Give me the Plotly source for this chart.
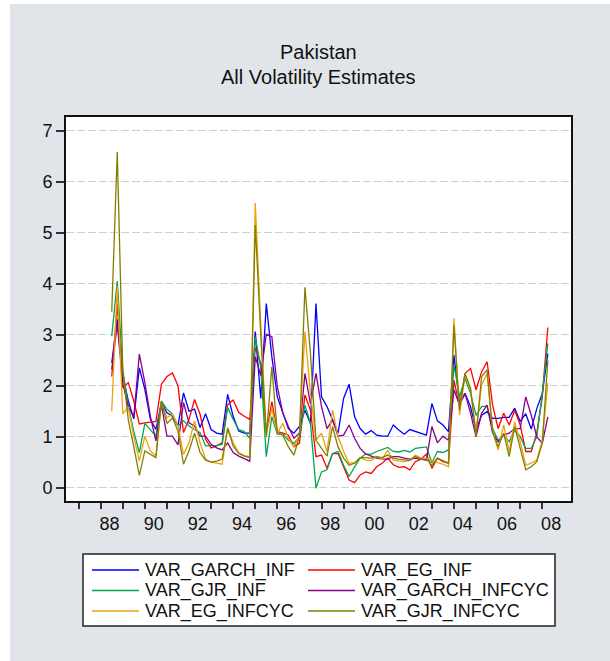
import pandas as pd
import plotly.graph_objects as go

# ---------------- data (quarterly, 1988Q3 .. 2008Q2) ----------------
start_quarter = "1988Q3"
end_quarter = "2008Q2"

series_names = ["VAR_GARCH_INF", "VAR_EG_INF", "VAR_GJR_INF",
                "VAR_GARCH_INFCYC", "VAR_EG_INFCYC", "VAR_GJR_INFCYC"]

var_garch_inf = [2.45, 3.30, 2.20, 1.70, 1.35, 2.35, 1.93, 1.34, 1.14, 1.67,
                 1.47, 1.40, 1.21, 1.86, 1.50, 1.54, 1.18, 1.45, 1.14, 1.07,
                 1.05, 1.83, 1.40, 1.11, 1.07, 1.07, 3.06, 1.75, 3.61, 2.57,
                 1.78, 1.46, 1.16, 1.07, 1.20, 1.52, 1.26, 3.61, 1.78, 1.59,
                 1.33, 1.07, 1.75, 2.03, 1.39, 1.16, 1.05, 1.12, 1.03, 1.01,
                 1.01, 1.23, 1.13, 1.05, 1.14, 1.10, 1.07, 1.03, 1.65, 1.31,
                 1.23, 1.10, 2.60, 1.65, 1.85, 1.59, 1.13, 1.42, 1.49, 1.36,
                 1.36, 1.38, 1.38, 1.56, 1.30, 1.45, 1.15, 1.55, 1.85, 2.63]

var_eg_inf = [2.18, 3.60, 1.96, 2.06, 1.70, 1.25, 1.27, 1.28, 1.30, 2.03,
              2.18, 2.25, 2.00, 1.08, 1.34, 1.73, 1.44, 0.95, 0.78, 0.82,
              0.88, 1.63, 1.72, 1.48, 1.40, 1.34, 2.75, 2.44, 1.07, 1.69,
              1.10, 1.07, 1.03, 0.80, 0.87, 1.82, 1.52, 0.61, 0.64, 0.38,
              0.67, 0.67, 0.41, 0.15, 0.10, 0.25, 0.31, 0.28, 0.41, 0.48,
              0.58, 0.45, 0.40, 0.41, 0.35, 0.51, 0.56, 0.66, 0.38, 0.58,
              0.51, 0.48, 2.11, 1.59, 2.24, 2.34, 1.92, 2.27, 2.47, 1.62,
              1.16, 1.46, 1.23, 1.52, 1.23, 0.71, 0.71, 1.07, 1.78, 3.14]

var_gjr_inf = [2.97, 4.05, 2.30, 1.60, 1.10, 0.69, 1.26, 1.14, 1.01, 1.70,
               1.54, 1.44, 1.21, 1.31, 1.21, 1.14, 1.08, 0.82, 0.82, 0.83,
               0.85, 1.57, 1.34, 1.14, 1.10, 0.97, 2.96, 2.35, 0.61, 1.39,
               1.05, 1.05, 0.93, 0.87, 1.00, 1.62, 1.26, -0.01, 0.31, 0.35,
               0.67, 0.71, 0.44, 0.22, 0.41, 0.58, 0.66, 0.66, 0.71, 0.75,
               0.79, 0.71, 0.70, 0.73, 0.70, 0.77, 0.79, 0.80, 0.49, 0.71,
               0.69, 0.74, 2.41, 1.78, 2.14, 1.85, 1.42, 1.59, 1.60, 1.16,
               0.93, 1.03, 0.90, 1.13, 1.00, 0.77, 0.77, 1.00, 1.85, 2.83]

var_garch_infcyc = [2.32, 3.20, 2.05, 1.58, 1.39, 2.62, 2.06, 1.40, 0.92, 1.63,
                    1.01, 1.01, 0.84, 1.67, 1.27, 1.21, 1.01, 1.01, 0.85, 0.78,
                    0.74, 0.88, 0.69, 0.62, 0.57, 0.52, 2.57, 2.20, 3.01, 2.96,
                    1.98, 1.46, 1.20, 0.97, 1.07, 2.24, 1.65, 2.24, 1.59, 1.16,
                    1.33, 1.01, 1.03, 1.23, 0.97, 0.77, 0.66, 0.62, 0.58, 0.56,
                    0.56, 0.61, 0.61, 0.58, 0.56, 0.58, 0.56, 0.54, 1.20, 0.88,
                    1.01, 0.93, 1.92, 1.62, 1.85, 1.46, 1.00, 1.46, 1.62, 1.07,
                    0.90, 1.03, 1.07, 1.16, 1.16, 1.78, 1.42, 1.00, 0.87, 1.39]

var_eg_infcyc = [1.50, 3.95, 1.45, 1.58, 1.00, 0.52, 1.01, 0.72, 0.62, 1.67,
                 1.37, 1.44, 1.21, 0.65, 0.88, 1.31, 0.88, 0.56, 0.50, 0.48,
                 0.46, 1.18, 0.88, 0.69, 0.63, 0.61, 5.58, 3.20, 1.03, 1.55,
                 1.07, 1.26, 0.97, 0.80, 1.03, 3.06, 1.85, 0.93, 1.07, 0.71,
                 1.52, 1.00, 0.71, 0.48, 0.49, 0.59, 0.54, 0.53, 0.61, 0.56,
                 0.74, 0.54, 0.53, 0.51, 0.54, 0.64, 0.58, 0.58, 0.54, 0.49,
                 0.46, 0.41, 3.32, 1.42, 2.21, 1.92, 1.10, 2.01, 2.24, 1.10,
                 0.74, 1.23, 0.71, 1.29, 0.90, 0.44, 0.48, 0.54, 0.93, 2.05]

var_gjr_infcyc = [3.45, 6.58, 2.30, 1.33, 0.80, 0.24, 0.72, 0.65, 0.59, 1.70,
                  1.26, 1.37, 1.11, 0.46, 0.72, 1.07, 0.69, 0.54, 0.50, 0.52,
                  0.56, 1.16, 0.82, 0.67, 0.62, 0.59, 5.15, 3.00, 1.00, 2.37,
                  1.07, 1.03, 0.80, 0.64, 1.00, 3.93, 2.63, 0.93, 0.77, 0.62,
                  1.20, 0.80, 0.58, 0.44, 0.48, 0.59, 0.59, 0.58, 0.61, 0.59,
                  0.64, 0.58, 0.56, 0.54, 0.53, 0.61, 0.56, 0.56, 0.44, 0.58,
                  0.53, 0.48, 3.19, 1.52, 2.24, 1.95, 1.00, 2.18, 2.31, 1.10,
                  0.80, 1.07, 0.61, 1.20, 0.77, 0.35, 0.41, 0.51, 0.87, 2.50]

series_values = [var_garch_inf, var_eg_inf, var_gjr_inf,
                 var_garch_infcyc, var_eg_infcyc, var_gjr_infcyc]

y_tick_values = [0, 1, 2, 3, 4, 5, 6, 7]
label_years = list(range(1988, 2009, 2))
tick_years = list(range(1987, 2009))

# ---------------- styles ----------------
colors = ["#0000FF", "#FF0000", "#00A651", "#8B008B", "#F0A010", "#808000"]
FONT = "Liberation Sans, Arial, sans-serif"
BG = "#E1E5EA"

W, H = 610, 661
L, R, T, B = 66, 39, 117, 160
PW, PH = W - L - R, H - T - B


def px_x(p):
    return (p - L) / PW


def px_y(p):
    return (H - B - p) / PH


quarters = pd.period_range(start_quarter, end_quarter, freq="Q")
x = [q.year + (q.quarter - 1) / 4 for q in quarters]

fig = go.Figure()
for name, vals, col in zip(series_names, series_values, colors):
    fig.add_trace(go.Scatter(x=x, y=vals, mode="lines", name=name,
                             line=dict(color=col, width=1.3),
                             showlegend=False, hoverinfo="x+y+name"))

shapes = []
annotations = []

# white outer strips (left, top)
shapes.append(dict(type="rect", xref="paper", yref="paper", layer="below",
                   x0=px_x(-5), x1=px_x(10), y0=px_y(H + 10), y1=px_y(-5),
                   fillcolor="white", line=dict(width=0)))
shapes.append(dict(type="rect", xref="paper", yref="paper", layer="below",
                   x0=px_x(-5), x1=px_x(W + 10), y0=px_y(4), y1=px_y(-5),
                   fillcolor="white", line=dict(width=0)))

# title
annotations.append(dict(text="Pakistan", xref="paper", yref="paper",
                        x=0.5, y=px_y(52), xanchor="center", yanchor="middle",
                        showarrow=False, font=dict(family=FONT, size=20, color="#111")))
annotations.append(dict(text="All Volatility Estimates", xref="paper", yref="paper",
                        x=0.5, y=px_y(77), xanchor="center", yanchor="middle",
                        showarrow=False, font=dict(family=FONT, size=20, color="#111")))

# legend box (manual, two columns)
lg_x0, lg_x1, lg_y0, lg_y1 = 83, 555, 554, 626
shapes.append(dict(type="rect", xref="paper", yref="paper",
                   x0=px_x(lg_x0), x1=px_x(lg_x1), y0=px_y(lg_y1), y1=px_y(lg_y0),
                   fillcolor="white", line=dict(color="#222", width=1.5)))
col_line_start = [92, 308]
line_len = 47
text_gap = 5
row_y = [570, 590.5, 611]
for k, (name, col) in enumerate(zip(series_names, colors)):
    r, c = divmod(k, 2)
    xs = col_line_start[c]
    yy = row_y[r]
    shapes.append(dict(type="line", xref="paper", yref="paper",
                       x0=px_x(xs), x1=px_x(xs + line_len), y0=px_y(yy), y1=px_y(yy),
                       line=dict(color=col, width=1.3)))
    annotations.append(dict(text=name, xref="paper", yref="paper",
                            x=px_x(xs + line_len + text_gap), y=px_y(yy),
                            xanchor="left", yanchor="middle", showarrow=False,
                            borderpad=0,
                            font=dict(family=FONT, size=18, color="#111")))

x_range = [1988 + (L - 100.7) / 22.08, 1988 + (W - R - 100.7) / 22.08]
y_range = [(487.7 - (H - B)) / 51.0, (487.7 - T) / 51.0]

fig.update_layout(
    width=W, height=H,
    margin=dict(l=L, r=R, t=T, b=B, pad=0),
    paper_bgcolor=BG, plot_bgcolor="white",
    shapes=shapes, annotations=annotations,
    showlegend=False,
    font=dict(family=FONT, size=18, color="#111"),
    xaxis=dict(range=x_range, showgrid=False, zeroline=False,
               showline=True, linecolor="#111", linewidth=2, mirror=True,
               tickmode="array", tickvals=[y + 0.4 for y in label_years],
               ticktext=[f"{y % 100:02d}" for y in label_years],
               ticks="", ticklabelstandoff=5,
               tickfont=dict(family=FONT, size=18, color="#111"),
               minor=dict(tickmode="array", tickvals=tick_years, ticks="outside",
                          ticklen=6, tickwidth=1.5, tickcolor="#333", showgrid=False)),
    yaxis=dict(range=y_range, zeroline=False,
               showline=True, linecolor="#111", linewidth=2, mirror=True,
               tickmode="array", tickvals=y_tick_values,
               ticks="outside", ticklen=8, tickwidth=1.5, tickcolor="#333",
               showgrid=True, gridcolor="#CFCFCF", gridwidth=1, griddash="8px,3px",
               tickfont=dict(family=FONT, size=18, color="#111")),
)

fig.write_html("out.html")
